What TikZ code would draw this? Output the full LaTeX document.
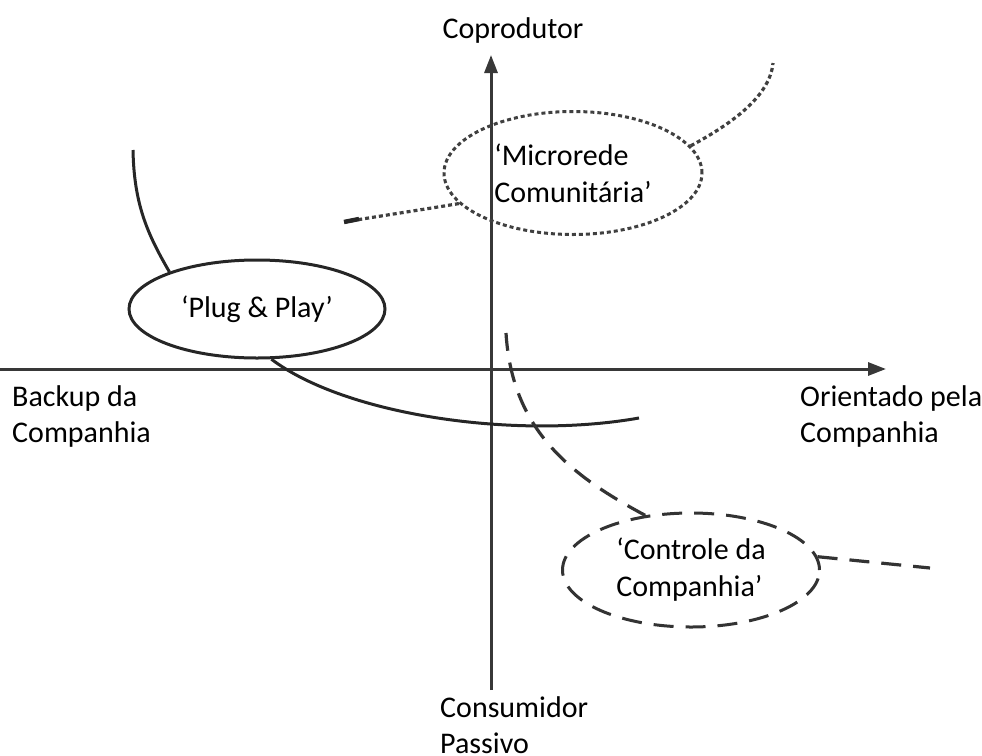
\documentclass[tikz,border=0pt]{standalone}
\usepackage{fontspec}
\setmainfont{Carlito}
\usetikzlibrary{arrows.meta,shapes.geometric}
\begin{document}
\begin{tikzpicture}[x=1pt,y=-1pt,
  axisline/.style={line width=3pt,draw=black!78,-{Triangle[length=18pt,width=13pt]}},
  label/.style={font=\fontsize{30}{36}\selectfont,align=left,inner sep=0pt},
  bubble/.style={ellipse,inner sep=0pt,line width=3pt,draw=black!85,
    font=\fontsize{30}{37}\selectfont,align=left},
  solidlink/.style={line width=3pt,draw=black!85},
  dottedlink/.style={line width=3.2pt,draw=black!75,dash pattern=on 4pt off 3pt},
  dashedlink/.style={line width=3.2pt,draw=black!80,dash pattern=on 20pt off 12pt}]
\useasboundingbox (0,0) rectangle (982,755);

% axes
\coordinate (ybot) at (491,690);
\coordinate (ytop) at (491,55);
\coordinate (xleft) at (0,369);
\coordinate (xright) at (886,369);
\draw[axisline] (ybot) -- (ytop);
\draw[axisline] (xleft) -- (xright);

% axis captions
\node[label,anchor=center] (cop) at (513,31) {Coprodutor};
\node[label,anchor=west] (bak) at (12,416) {Backup da\\Companhia};
\node[label,anchor=west] (ori) at (800,416) {Orientado pela\\Companhia};
\node[label,anchor=west] (con) at (440,725) {Consumidor\\Passivo};

% scenarios
\node[bubble,dash pattern=on 4pt off 3pt,draw=black!75,minimum width=258pt,minimum height=123pt]
  (micro) at (573,173) {‘Microrede\\Comunitária’};
\node[bubble,minimum width=256pt,minimum height=98pt]
  (plug) at (257,309) {‘Plug \& Play’};
\node[bubble,dash pattern=on 20pt off 12pt,draw=black!80,minimum width=257pt,minimum height=114pt]
  (ctrl) at (691,570) {‘Controle da\\Companhia’};

% trajectory ends
\coordinate (plugtop) at (133,150);
\coordinate (plugend) at (639,418);
\coordinate (microleft) at (344,222);
\coordinate (microright) at (773,63);
\coordinate (ctrltop) at (506,333);
\coordinate (ctrlright) at (930,568);

% 'Plug & Play' trajectory
\draw[solidlink] (plugtop) .. controls (134,205) and (148,235) .. (plug.157);
\draw[solidlink] (plug.-74) .. controls (345,415) and (515,440) .. (plugend);

% 'Microrede Comunitária' trajectory
\draw[dottedlink] (micro.195) .. controls (420,210) and (380,216) .. (microleft);
\draw[line width=4.5pt,draw=black!85] (microleft) -- ++(15,-3);
\draw[dottedlink] (micro.13) .. controls (735,122) and (770,95) .. (microright);

% 'Controle da Companhia' trajectory
\draw[dashedlink] (ctrl.130) .. controls (570,475) and (512,430) .. (ctrltop);
\draw[dashedlink] (ctrl.6) -- (ctrlright);
\end{tikzpicture}
\end{document}
